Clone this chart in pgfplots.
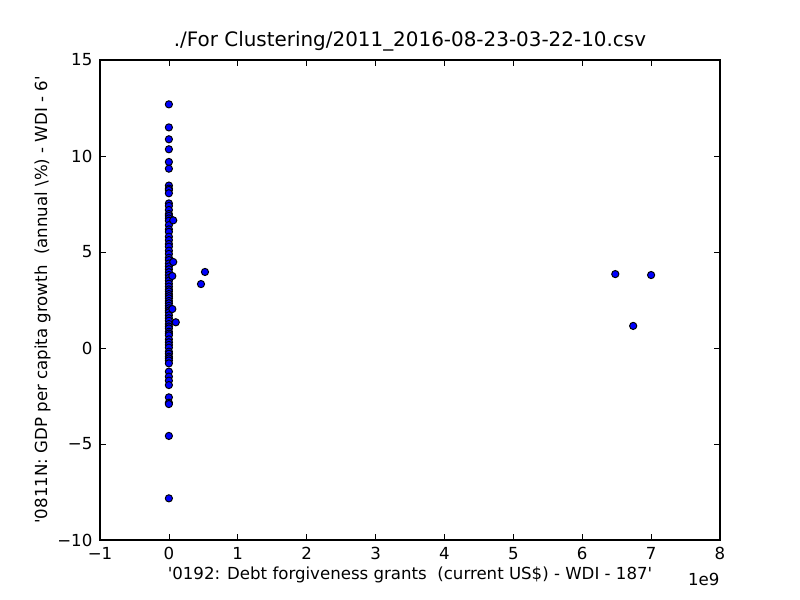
\documentclass[border=0pt]{standalone}
\usepackage{fontspec}
\setmainfont{DejaVu Sans}
\usepackage{pgfplots}
\pgfplotsset{compat=1.18}
\begin{document}
\begin{tikzpicture}
\path[use as bounding box] (-1in,-0.6in) rectangle (7in,5.4in);
\begin{axis}[
  at={(0,0)}, anchor=south west,
  scale only axis, width=6.2in, height=4.8in,
  xmin=-1, xmax=8, ymin=-10, ymax=15,
  xtick={-1,0,1,2,3,4,5,6,7,8},
  xticklabels={−1,0,1,2,3,4,5,6,7,8},
  ytick={-10,-5,0,5,10,15},
  yticklabels={−10,−5,0,5,10,15},
  tick align=inside, major tick length=4pt,
  xtick pos=both, ytick pos=both,
  tick style={black, line width=0.5pt},
  axis line style={black, line width=0.8pt},
  ticklabel style={font=\fontsize{12}{14}\selectfont},
  xticklabel style={yshift=-2pt},
  yticklabel style={xshift=-2pt},
  title={./For Clustering/2011\_2016-08-23-03-22-10.csv},
  title style={font=\fontsize{14.4}{17}\selectfont, yshift=-3pt},
  xlabel={\textquotesingle0192: Debt forgiveness grants\ \ (current US\$) - WDI - 187\textquotesingle},
  ylabel={\textquotesingle0811N: GDP per capita growth\ \ (annual \textbackslash\%) - WDI - 6\textquotesingle},
  label style={font=\fontsize{12}{14}\selectfont},
  xlabel style={yshift=2pt},
  ylabel style={yshift=-2pt},
  clip=false,
]
\addplot[only marks, mark=*, mark size=2.6pt,
  mark options={fill=blue, draw=black, line width=0.7pt}]
coordinates {
(0,12.69) (0,11.49) (0,10.87) (0,10.35) (0,9.69) (0,9.34)
(0,8.46) (0,8.30) (0,8.23) (0,8.06) (0,7.53) (0,7.40) (0,7.19) (0,6.98) (0,6.88)
(0,6.75) (0,6.63) (0,6.40) (0,6.18) (0,6.05) (0,5.80) (0,5.62) (0,5.42) (0,5.28) (0,5.07)
(0,4.90) (0,4.70) (0,4.58) (0,4.40) (0,4.25) (0,4.10) (0,3.95) (0,3.80) (0,3.65) (0,3.51)
(0,3.35) (0,3.20) (0,3.05) (0,2.95) (0,2.81) (0,2.70) (0,2.59) (0,2.45) (0,2.33) (0,2.20)
(0,2.07) (0,1.95) (0,1.86) (0,1.70) (0,1.55) (0,1.42) (0,1.25) (0,1.12) (0,1.02) (0,0.85)
(0,0.75) (0,0.66) (0,0.45) (0,0.30) (0,0.16) (0,0.02) (0,-0.19) (0,-0.30) (0,-0.45) (0,-0.54)
(0,-0.65) (0,-0.80) (0,-1.23) (0,-1.49) (0,-1.70) (0,-1.93)
(0,-2.57) (0,-2.85) (0,-2.92) (0,-4.58) (0,-7.83)
(0.063,6.65) (0.063,4.48) (0.05,3.75) (0.05,2.03) (0.10,1.34)
(0.466,3.33) (0.524,3.96) (6.48,3.85) (6.74,1.15) (7.0,3.80)
};
\node[anchor=base east, font=\fontsize{12}{14}\selectfont] at (rel axis cs:1.007,-0.095) {1e9};
\end{axis}
\end{tikzpicture}
\end{document}
